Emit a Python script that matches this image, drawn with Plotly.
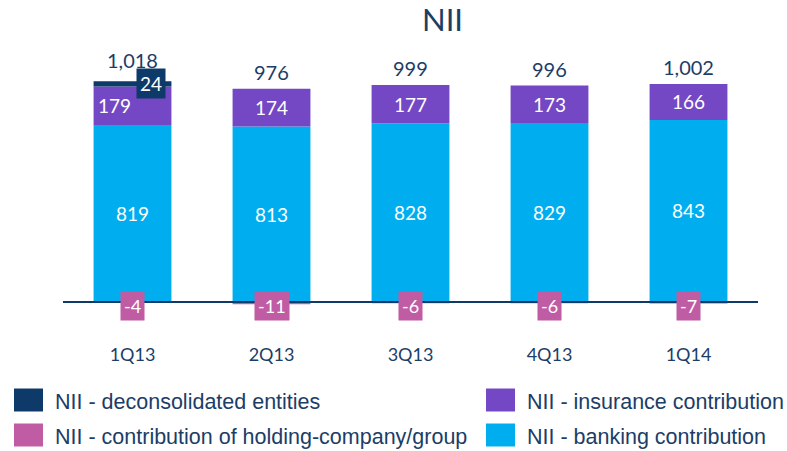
import plotly.graph_objects as go

quarters = ["1Q13", "2Q13", "3Q13", "4Q13", "1Q14"]
banking = [819, 813, 828, 829, 843]
insurance = [179, 174, 177, 173, 166]
deconsolidated = [24, 0, 0, 0, 0]
holding = [-4, -11, -6, -6, -7]
totals = [1018, 976, 999, 996, 1002]
total_labels = ["1,018", "976", "999", "996", "1,002"]

C_BANK = "#00AEEF"
C_INS = "#7448C4"
C_DEC = "#0D3A68"
C_HOLD = "#C05CA4"
C_TXT = "#1C3D66"
NUMFONT = "Lato, Carlito, Open Sans, sans-serif"
LEGFONT = "Liberation Sans Narrow, Liberation Sans, Arial, sans-serif"

fig = go.Figure()
fig.add_bar(x=quarters, y=banking, marker_color=C_BANK, name="NII - banking contribution", width=0.56)
fig.add_bar(x=quarters, y=insurance, marker_color=C_INS, name="NII - insurance contribution", width=0.56)
fig.add_bar(x=quarters, y=deconsolidated, marker_color=C_DEC, name="NII - deconsolidated entities", width=0.56)
fig.add_bar(x=quarters, y=holding, marker_color=C_HOLD, name="NII - contribution of holding-company/group", width=0.56)
fig.update_traces(marker_line_width=0, showlegend=False, hoverinfo="skip")

ann = []
for i, q in enumerate(quarters):
    ann.append(dict(x=q, y=banking[i] / 2, text=str(banking[i]), showarrow=False,
                    font=dict(color="white", size=19, family=NUMFONT)))
    ins_mid = banking[i] + insurance[i] / 2
    ann.append(dict(x=q, y=ins_mid, text=str(insurance[i]), showarrow=False,
                    xshift=-18 if deconsolidated[i] else 0,
                    font=dict(color="white", size=19, family=NUMFONT)))
    if deconsolidated[i]:
        ann.append(dict(x=q, y=banking[i] + insurance[i] + deconsolidated[i], text=str(deconsolidated[i]),
                        showarrow=False, xshift=18, yshift=-2, bgcolor=C_DEC, borderpad=3,
                        font=dict(color="white", size=19, family=NUMFONT)))
    ann.append(dict(x=q, y=0, text=str(holding[i]), showarrow=False, yshift=-4,
                    bgcolor=C_HOLD, borderpad=3,
                    font=dict(color="white", size=18, family=NUMFONT)))
    top = banking[i] + insurance[i] + deconsolidated[i]
    ann.append(dict(x=q, y=top, text=total_labels[i], showarrow=False, yanchor="middle",
                    yshift=21 if deconsolidated[i] else 17,
                    font=dict(color=C_TXT, size=20, family=NUMFONT)))

W, H = 787, 451
PL, PR, PT, PB = 63, 758, 40, 340
pw, ph = PR - PL, PB - PT

# title
ann.append(dict(xref="paper", yref="paper", x=(442 - PL) / pw, y=(PB - 19) / ph,
                xanchor="center", yanchor="middle", text="NII", showarrow=False,
                font=dict(color=C_TXT, size=31, family=NUMFONT)))

# legend (custom)
legend_items = [
    ("NII - deconsolidated entities", C_DEC, 14, 400),
    ("NII - insurance contribution", C_INS, 486, 400),
    ("NII - contribution of holding-company/group", C_HOLD, 14, 435),
    ("NII - banking contribution", C_BANK, 486, 435),
]
shapes = []
for text, col, px, py in legend_items:
    shapes.append(dict(type="rect", xref="paper", yref="paper",
                       x0=(px - PL) / pw, x1=(px + 29 - PL) / pw,
                       y0=(PB - (py + 11.5)) / ph, y1=(PB - (py - 11.5)) / ph,
                       fillcolor=col, line_width=0))
    ann.append(dict(xref="paper", yref="paper", x=(px + 39 - PL) / pw, y=(PB - py - 1.5) / ph,
                    xanchor="left", yanchor="middle", text=text, showarrow=False,
                    font=dict(color=C_TXT, size=21.5, family=LEGFONT)))

shapes.append(dict(type="line", xref="paper", yref="y", x0=0, x1=1, y0=0, y1=0,
                   line=dict(color=C_DEC, width=2), layer="above"))

fig.update_layout(
    barmode="relative",
    width=W, height=H,
    margin=dict(l=PL, r=W - PR, t=PT, b=H - PB),
    plot_bgcolor="white", paper_bgcolor="white",
    annotations=ann, shapes=shapes,
    hovermode=False,
    xaxis=dict(range=[-0.5, 4.5], showgrid=False, showline=False, zeroline=False,
               tickfont=dict(color=C_TXT, size=18, family=NUMFONT), ticks="", ticklabelstandoff=2),
    yaxis=dict(range=[-176, 1213], visible=False, showgrid=False, zeroline=False),
)
fig.write_html("out.html", config={"displayModeBar": False},
               post_script="document.body.style.margin='0px';")
